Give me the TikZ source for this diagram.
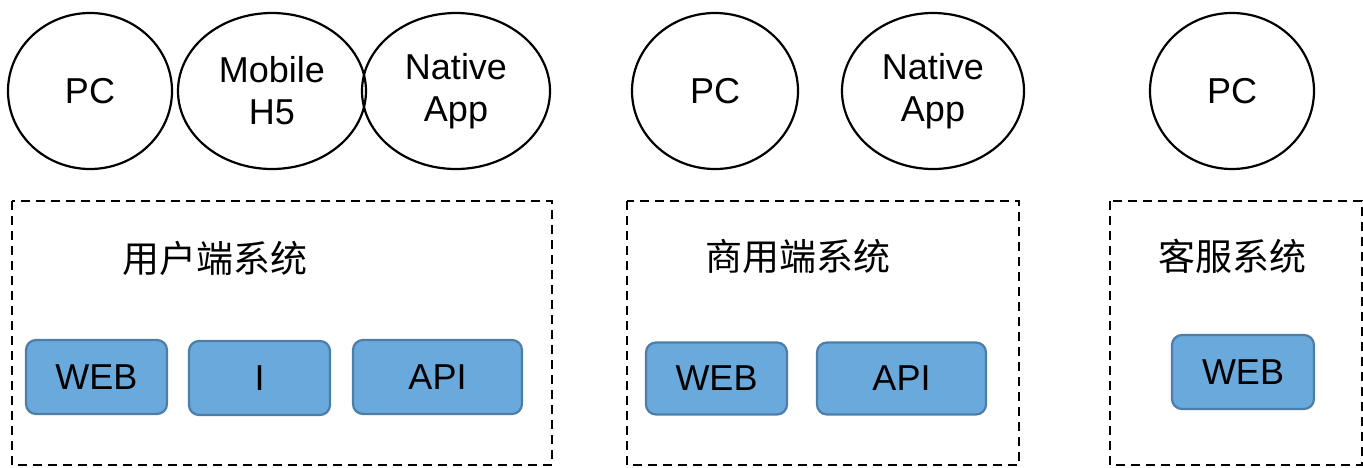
\documentclass[tikz,border=0pt]{standalone}
\usepackage{fontspec}
\setmainfont{Liberation Sans}
\newfontfamily\cjk{Noto Sans CJK SC}
\usetikzlibrary{shapes.geometric}
\definecolor{boxfill}{HTML}{6AA9DC}
\definecolor{boxline}{HTML}{4D7EA8}
\begin{document}
\begin{tikzpicture}[x=1pt,y=-1pt,
  client/.style={draw=black,line width=2.2pt,ellipse,inner sep=0pt,font=\fontsize{36}{42}\selectfont,align=center},
  sysbox/.style={draw=black,line width=2.2pt,dash pattern=on 9pt off 6pt},
  modbox/.style={draw=boxline,fill=boxfill,line width=2.2pt,rounded corners=10pt,inner sep=0pt,font=\fontsize{36}{40}\selectfont},
  title/.style={font=\cjk\fontsize{37}{40}\selectfont,inner sep=0pt}]
\useasboundingbox (0,0) rectangle (1363,467);
% clients
\node[client,minimum width=164pt,minimum height=156pt] (pc1) at (90,91) {PC};
\node[client,minimum width=188pt,minimum height=156pt] (m5) at (272,91) {Mobile\\H5};
\node[client,minimum width=188pt,minimum height=156pt] (na1) at (456,91) {Native\\App};
\node[client,minimum width=166pt,minimum height=156pt] (pc2) at (715,91) {PC};
\node[client,minimum width=182pt,minimum height=156pt] (na2) at (933,91) {Native\\App};
\node[client,minimum width=164pt,minimum height=156pt] (pc3) at (1232,91) {PC};
% systems
\draw[sysbox] (12,201) rectangle (552,465);
\draw[sysbox] (627,201) rectangle (1019,465);
\draw[sysbox] (1110,201) rectangle (1362,465);
\node[title] (t1) at (215,258) {用户端系统};
\node[title] (t2) at (798,256) {商用端系统};
\node[title] (t3) at (1232,256) {客服系统};
% modules
\node[modbox,minimum width=141pt,minimum height=74pt] (w1) at (96.5,377) {WEB};
\node[modbox,minimum width=141pt,minimum height=74pt] (i1) at (259.5,378) {I};
\node[modbox,minimum width=169pt,minimum height=74pt] (a1) at (437.5,377) {API};
\node[modbox,minimum width=141pt,minimum height=72pt] (w2) at (716.5,378.5) {WEB};
\node[modbox,minimum width=169pt,minimum height=72pt] (a2) at (901.5,378.5) {API};
\node[modbox,minimum width=142pt,minimum height=74pt] (w3) at (1243,372) {WEB};
\end{tikzpicture}
\end{document}
